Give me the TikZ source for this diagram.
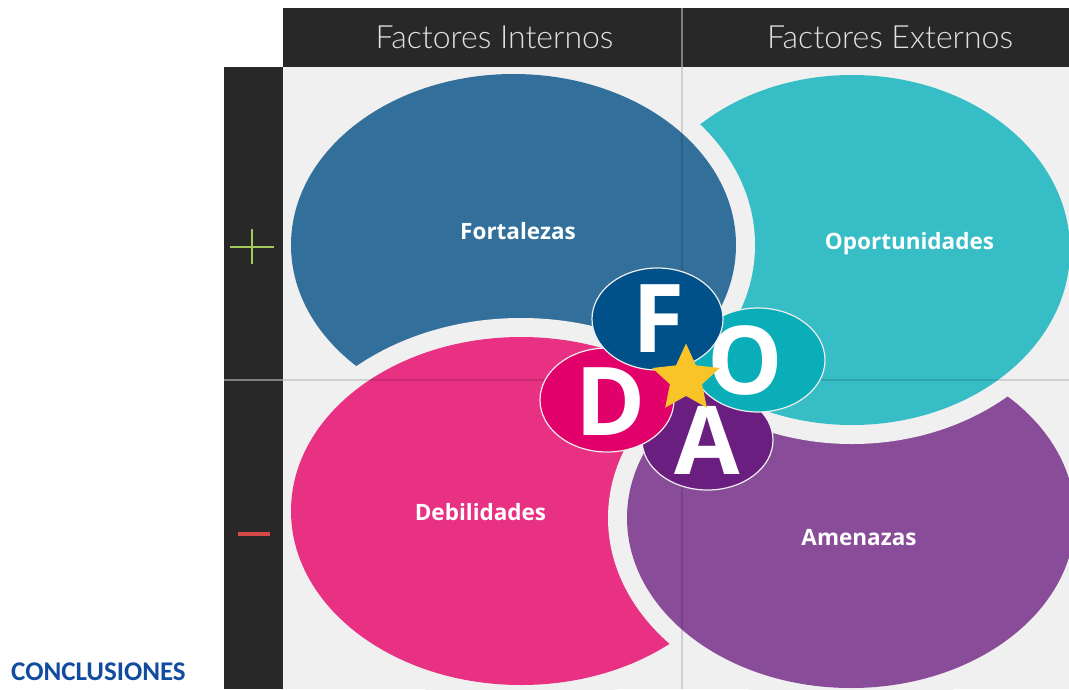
\documentclass[tikz,border=0pt]{standalone}
\usepackage{fontspec}
\setmainfont{Open Sans}
\newfontfamily\thinfont{Lato Light}
\newfontfamily\calfont{Carlito}
\usetikzlibrary{shapes.geometric}
\definecolor{darkbar}{RGB}{40,40,40}
\definecolor{lightbg}{RGB}{240,240,240}
\definecolor{bluec}{RGB}{50,112,155}
\definecolor{tealc}{RGB}{54,189,198}
\definecolor{pinkc}{RGB}{232,49,130}
\definecolor{purplec}{RGB}{137,76,153}
\definecolor{Fc}{RGB}{0,80,138}
\definecolor{Oc}{RGB}{9,174,185}
\definecolor{Dc}{RGB}{226,0,106}
\definecolor{Ac}{RGB}{106,31,128}
\definecolor{starc}{RGB}{248,196,40}
\definecolor{plusc}{RGB}{165,200,90}
\definecolor{minusc}{RGB}{214,72,72}
\definecolor{conclc}{RGB}{17,76,160}
\definecolor{hdrtextc}{RGB}{225,225,225}
\definecolor{rimc}{RGB}{238,238,238}
\tikzset{
  hdrtext/.style={font=\thinfont\fontsize{32}{32}\selectfont, text=hdrtextc, inner sep=0pt},
  bloblabel/.style={font=\bfseries\fontsize{22.5}{22.5}\selectfont, text=white, inner sep=0pt},
  letter/.style={font=\bfseries\fontsize{95}{95}\selectfont, text=white, inner sep=0pt},
  badge/.style={ellipse, inner sep=0pt, draw=rimc, line width=1.2pt},
  gridline/.style={black, opacity=0.13, line width=1.2pt},
}
\begin{document}
\begin{tikzpicture}[x=1pt,y=-1pt]
\useasboundingbox (0,0) rectangle (1069,689);
\fill[white] (0,0) rectangle (1069,689);
\fill[lightbg] (283,67) rectangle (1069,689);
\fill[darkbar] (283,8) rectangle (1069,67);
\fill[darkbar] (224,67) rectangle (283,689);
\draw[gray, line width=1.2pt] (682,8) -- (682,67);
\draw[gray, line width=1.2pt] (224,380) -- (283,380);

% blobs
\begin{scope}
\clip (283,67) rectangle (1069,689);
% pink
\fill[lightbg] (521,511) ellipse [x radius=249pt, y radius=193pt];
\fill[pinkc] (521,511) ellipse [x radius=230pt, y radius=174pt];
% purple
\fill[lightbg] (851,518) ellipse [x radius=243pt, y radius=189pt];
\fill[purplec] (851,518) ellipse [x radius=224pt, y radius=170pt];
% teal
\fill[lightbg] (852,250) ellipse [x radius=237pt, y radius=194pt];
\fill[tealc] (852,250) ellipse [x radius=218pt, y radius=175pt];
% blue
\fill[lightbg] (513.5,245) ellipse [x radius=241.5pt, y radius=190pt];
\fill[bluec] (513.5,245) ellipse [x radius=222.5pt, y radius=171pt];
% pink over blue
\begin{scope}
\clip (283,67) rectangle (625,450);
\fill[lightbg] (521,511) ellipse [x radius=249pt, y radius=193pt];
\fill[pinkc] (521,511) ellipse [x radius=230pt, y radius=174pt];
\end{scope}
\end{scope}

% grid lines
\draw[gridline] (682,67) -- (682,689);
\draw[gridline] (283,380) -- (1069,380);

% header texts
\node[hdrtext] (fi) at (494.5,37) {Factores Internos};
\node[hdrtext] (fe) at (890,37) {Factores Externos};

% plus / minus
\draw[plusc, line width=1.6pt] (230,247) -- (274,247);
\draw[plusc, line width=1.6pt] (252,229) -- (252,264);
\draw[minusc, line width=3.2pt] (238,534) -- (270,534);

% blob labels
\node[bloblabel] (lf) at (518,231) {Fortalezas};
\node[bloblabel] (lo) at (909.5,244) {Oportunidades};
\node[bloblabel] (ld) at (480.5,512) {Debilidades};
\node[bloblabel] (la) at (859,538) {Amenazas};

% FODA badges
\node[badge, fill=Ac, minimum width=131pt, minimum height=100pt] (bA) at (707.5,440) {};
\node[badge, fill=Dc, minimum width=134pt, minimum height=104pt] (bD) at (607,400) {};
\node[badge, fill=Oc, minimum width=134pt, minimum height=104pt] (bO) at (758,360) {};
\node[badge, fill=Fc, minimum width=131pt, minimum height=102pt] (bF) at (657.5,319) {};
\node[letter] (tA) at (707,440) {A};
\node[letter] (tD) at (611,402) {D};
\node[letter] (tO) at (745.5,361) {O};
\node[letter] (tF) at (658.5,318.5) {F};
\node[star, star points=5, star point ratio=2.1, minimum size=71pt, inner sep=0pt, fill=starc] (star) at (686,379) {};

% conclusiones
\node[anchor=west, font=\calfont\bfseries\fontsize{27}{27}\selectfont, text=conclc, inner sep=0pt] (concl) at (11,672) {CONCLUSIONES};
\end{tikzpicture}
\end{document}
